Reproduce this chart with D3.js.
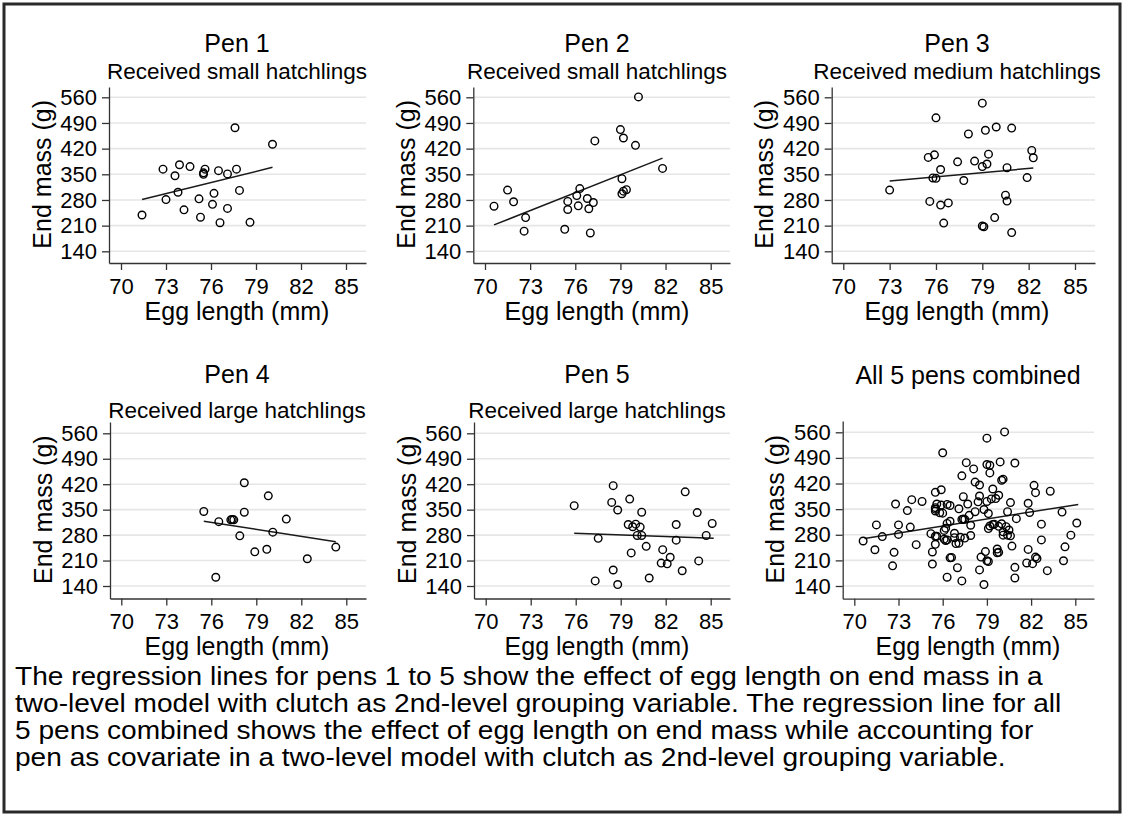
<!DOCTYPE html>
<html>
<head>
<meta charset="utf-8">
<script src="https://cdn.jsdelivr.net/npm/d3@7"></script>
<style>
  body { margin: 0; background: #fff; }
  svg text { font-family: "Liberation Sans", Arial, sans-serif; fill: #000; }
</style>
</head>
<body>
<div class="chart"></div>
<script>
// Data
var xTicks = [70, 73, 76, 79, 82, 85];
var yTicks = [140, 210, 280, 350, 420, 490, 560];

var titles = ["Pen 1", "Pen 2", "Pen 3", "Pen 4", "Pen 5", "All 5 pens combined"];
var subtitles = ["Received small hatchlings", "Received small hatchlings", "Received medium hatchlings",
  "Received large hatchlings", "Received large hatchlings", ""];

var pen1Egg = [71.4, 72.8, 73.0, 73.6, 73.9, 73.8, 74.2, 74.6, 75.2, 75.3, 75.5, 75.5, 75.6, 76.2, 76.1, 76.5, 76.6, 77.1, 77.1, 77.6, 77.7, 77.9, 78.6, 80.1];
var pen1Mass = [239, 364, 281, 346, 376, 301, 253, 371, 283, 233, 350, 354, 364, 298, 268, 360, 218, 351, 257, 477, 364, 306, 219, 432];

var pen2Egg = [70.6, 71.5, 71.9, 72.7, 72.6, 75.3, 75.5, 75.5, 76.1, 76.3, 76.2, 76.8, 76.9, 77.2, 77.0, 77.3, 79.0, 79.2, 79.1, 79.1, 79.2, 79.4, 80.0, 80.2, 81.8];
var pen2Mass = [263, 307, 275, 232, 195, 200, 276, 254, 292, 311, 264, 284, 256, 273, 190, 441, 472, 449, 338, 297, 304, 308, 429, 561, 366];

var pen3Egg = [73.0, 75.5, 75.9, 76.0, 76.3, 75.8, 76.0, 75.6, 76.3, 76.8, 76.5, 77.4, 77.8, 78.1, 78.5, 79.0, 79.2, 79.0, 79.3, 79.4, 79.9, 79.0, 79.1, 79.8, 80.6, 80.5, 80.6, 80.9, 80.9, 81.9, 82.2, 82.3];
var pen3Mass = [307, 396, 403, 504, 363, 340, 339, 276, 266, 272, 217, 384, 333, 460, 386, 544, 470, 371, 378, 405, 479, 209, 207, 232, 368, 293, 277, 476, 191, 341, 415, 395];

var pen4Egg = [75.5, 76.5, 76.3, 77.3, 77.4, 77.5, 77.9, 78.2, 78.2, 78.9, 79.7, 79.8, 80.1, 81.0, 82.4, 84.3];
var pen4Mass = [345, 317, 164, 322, 323, 322, 278, 424, 343, 234, 241, 388, 288, 324, 215, 247];

var pen5Egg = [75.9, 77.5, 77.3, 78.5, 78.8, 78.5, 78.4, 78.8, 79.6, 79.5, 79.7, 79.8, 80.0, 80.3, 80.1, 80.4, 80.4, 80.7, 80.9, 81.8, 81.7, 82.1, 82.3, 82.7, 82.7, 83.1, 83.3, 84.1, 84.2, 84.7, 85.1];
var pen5Mass = [361, 271, 154, 184, 144, 416, 370, 349, 379, 309, 231, 303, 310, 302, 279, 279, 343, 249, 162, 240, 203, 201, 219, 266, 309, 182, 399, 342, 209, 279, 312];

// regression line end points per panel
var fitEgg = [[71.4, 80.1], [70.6, 81.8], [73.0, 82.3], [75.5, 84.3], [75.9, 85.2], [70.7, 85.2]];
var fitMass = [[281, 369], [212, 394], [332, 367], [318, 262], [285, 271], [270, 363]];

var captionLines = [
  "The regression lines for pens 1 to 5 show the effect of egg length on end mass in a",
  "two-level model with clutch as 2nd-level grouping variable. The regression line for all",
  "5 pens combined shows the effect of egg length on end mass while accounting for",
  "pen as covariate in a two-level model with clutch as 2nd-level grouping variable."
];

var eggs = [pen1Egg, pen2Egg, pen3Egg, pen4Egg, pen5Egg];
var masses = [pen1Mass, pen2Mass, pen3Mass, pen4Mass, pen5Mass];
// combined panel = every pen together
eggs.push([].concat(pen1Egg, pen2Egg, pen3Egg, pen4Egg, pen5Egg));
masses.push([].concat(pen1Mass, pen2Mass, pen3Mass, pen4Mass, pen5Mass));

// pixel layout of each panel
var layout = [
  {ax: 109, x70: 121, x85: 346, right: 366, top: 87, y560: 97.3, y140: 251.3, bottom: 263, tx: 237, ty: 43.5, sy: 71.5},
  {ax: 473.3, x70: 485, x85: 710.7, right: 730, top: 87, y560: 97.3, y140: 251.3, bottom: 263, tx: 597, ty: 43.5, sy: 71.5},
  {ax: 831.7, x70: 843.3, x85: 1075, right: 1095, top: 87, y560: 97.3, y140: 251.3, bottom: 263, tx: 957, ty: 43.5, sy: 71.5},
  {ax: 110, x70: 121.3, x85: 346.3, right: 366, top: 422, y560: 433.3, y140: 586, bottom: 598.5, tx: 237, ty: 374, sy: 410},
  {ax: 474, x70: 485.7, x85: 710.7, right: 730, top: 422, y560: 433.3, y140: 586, bottom: 598.5, tx: 597, ty: 374, sy: 410},
  {ax: 842.7, x70: 854.3, x85: 1075.3, right: 1094, top: 421, y560: 432.3, y140: 586, bottom: 598.7, tx: 968, ty: 375, sy: 0}
];

var svgWidth = 1124;
var svgHeight = 816;

var svg = d3.select(".chart")
  .append("svg")
  .attr("width", svgWidth)
  .attr("height", svgHeight);

svg.append("rect")
  .attr("width", svgWidth)
  .attr("height", svgHeight)
  .attr("fill", "#fff");

// outer frame
svg.append("rect")
  .attr("x", 4)
  .attr("y", 4)
  .attr("width", svgWidth - 8)
  .attr("height", svgHeight - 8)
  .attr("fill", "none")
  .attr("stroke", "#2a2a2a")
  .attr("stroke-width", 3);

layout.forEach(function(p, i) {
  var g = svg.append("g");

  var x = d3.scaleLinear().domain([70, 85]).range([p.x70, p.x85]);
  x.domain([x.invert(p.ax), x.invert(p.right)]).range([p.ax, p.right]);

  var y = d3.scaleLinear().domain([140, 560]).range([p.y140, p.y560]);
  y.domain([y.invert(p.bottom), y.invert(p.top)]).range([p.bottom, p.top]);

  // grid lines
  g.selectAll(".grid")
    .data(yTicks)
    .enter()
    .append("line")
    .attr("x1", p.ax)
    .attr("x2", p.right)
    .attr("y1", d => y(d))
    .attr("y2", d => y(d))
    .attr("stroke", "#e6e6e6")
    .attr("stroke-width", 1.6);

  var leftAxis = d3.axisLeft(y).tickValues(yTicks).tickSize(7).tickSizeOuter(0).tickPadding(5);
  var bottomAxis = d3.axisBottom(x).tickValues(xTicks).tickSize(7).tickSizeOuter(0).tickPadding(8);

  g.append("g")
    .attr("transform", `translate(${p.ax}, 0)`)
    .call(leftAxis)
    .call(a => a.selectAll("text").style("font-size", "22px").attr("fill", "#000"));

  g.append("g")
    .attr("transform", `translate(0, ${p.bottom})`)
    .call(bottomAxis)
    .call(a => a.selectAll("text").style("font-size", "22px").attr("fill", "#000"));

  g.selectAll(".domain, .tick line")
    .attr("stroke", "#333")
    .attr("stroke-width", 1.3);

  // regression line
  g.append("line")
    .attr("x1", x(fitEgg[i][0]))
    .attr("y1", y(fitMass[i][0]))
    .attr("x2", x(fitEgg[i][1]))
    .attr("y2", y(fitMass[i][1]))
    .attr("stroke", "#1a1a1a")
    .attr("stroke-width", 1.5);

  // points
  g.selectAll("circle")
    .data(eggs[i])
    .enter()
    .append("circle")
    .attr("cx", d => x(d))
    .attr("cy", (d, j) => y(masses[i][j]))
    .attr("r", 3.8)
    .attr("fill", "none")
    .attr("stroke", "#000")
    .attr("stroke-width", 1.4);

  // titles
  g.append("text")
    .attr("x", p.tx)
    .attr("y", p.ty)
    .attr("dy", "0.35em")
    .style("text-anchor", "middle")
    .style("font-size", "25px")
    .text(titles[i]);

  if (subtitles[i]) {
    g.append("text")
      .attr("x", p.tx)
      .attr("y", p.sy)
      .attr("dy", "0.35em")
      .style("text-anchor", "middle")
      .style("font-size", "22.5px")
      .text(subtitles[i]);
  }

  g.append("text")
    .attr("transform", `translate(${p.ax - 67}, ${(p.y140 + p.y560) / 2}) rotate(-90)`)
    .attr("dy", "0.35em")
    .style("text-anchor", "middle")
    .style("font-size", "25px")
    .text("End mass (g)");

  g.append("text")
    .attr("x", p.tx)
    .attr("y", p.bottom + 48)
    .attr("dy", "0.35em")
    .style("text-anchor", "middle")
    .style("font-size", "25px")
    .text("Egg length (mm)");
});

// caption (text in the picture is slightly wider than tall, so stretch x a bit)
svg.append("g")
  .attr("transform", "translate(15, 0) scale(1.08, 1)")
  .selectAll("text")
  .data(captionLines)
  .enter()
  .append("text")
  .attr("x", 0)
  .attr("y", (d, i) => 676 + i * 27)
  .attr("dy", "0.35em")
  .style("font-size", "26px")
  .text(d => d);
</script>
</body>
</html>
